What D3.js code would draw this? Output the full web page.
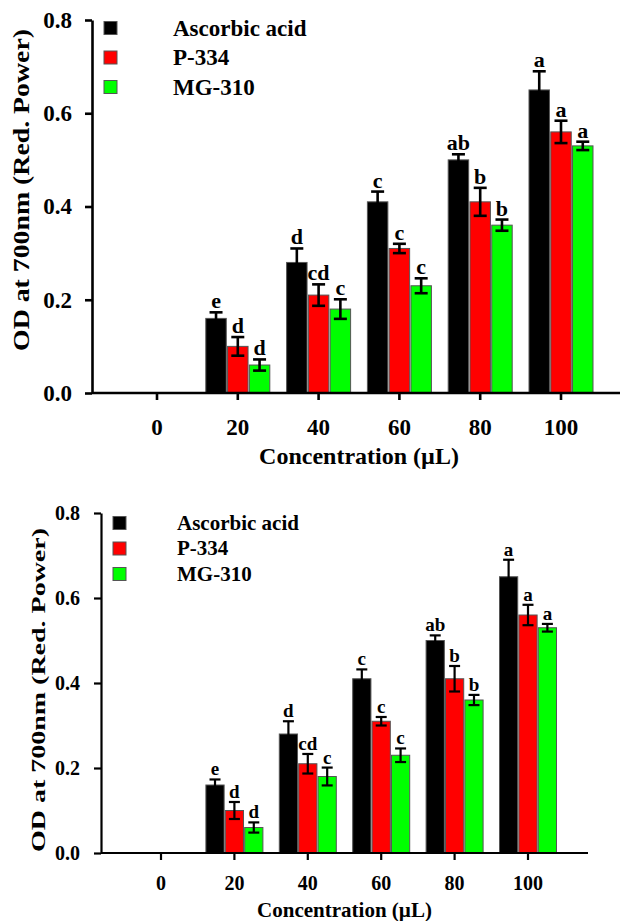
<!DOCTYPE html>
<html>
<head>
<meta charset="utf-8">
<script src="https://cdn.jsdelivr.net/npm/d3@7"></script>
<style>
  body { margin: 0; background: #fff; }
  svg { display: block; }
  svg text { font-family: "Liberation Serif", "Times New Roman", Times, "Tinos", "Noto Serif", "DejaVu Serif", "FreeSerif", "Nimbus Roman", serif; font-weight: bold; }
</style>
</head>
<body>
<script>
// data (same values in both panels)
var concentrations = ["0", "20", "40", "60", "80", "100"];
var seriesNames = ["Ascorbic acid", "P-334", "MG-310"];
var seriesColors = ["#000000", "#ff0000", "#00ff00"];

var ascorbicMean = [0, 0.16, 0.28, 0.41, 0.50, 0.65];
var ascorbicErr  = [0, 0.013, 0.03, 0.022, 0.012, 0.04];
var p334Mean     = [0, 0.10, 0.21, 0.31, 0.41, 0.56];
var p334Err      = [0, 0.02, 0.023, 0.01, 0.03, 0.024];
var mg310Mean    = [0, 0.06, 0.18, 0.23, 0.36, 0.53];
var mg310Err     = [0, 0.012, 0.021, 0.016, 0.012, 0.009];

var ascorbicLetters = ["", "e", "d", "c", "ab", "a"];
var p334Letters     = ["", "d", "cd", "c", "b", "a"];
var mg310Letters    = ["", "d", "c", "c", "b", "a"];

var yTicks = [0, 0.2, 0.4, 0.6, 0.8];

var means = [ascorbicMean, p334Mean, mg310Mean];
var errs = [ascorbicErr, p334Err, mg310Err];
var letters = [ascorbicLetters, p334Letters, mg310Letters];

var svg = d3.select("body").append("svg")
    .attr("width", 624)
    .attr("height", 921);

// build flat record list from the arrays
var records = [];
concentrations.forEach(function(c, i) {
    seriesNames.forEach(function(s, j) {
        records.push({conc: c, series: s, color: seriesColors[j],
            mean: means[j][i], err: errs[j][i], letter: letters[j][i]});
    });
});

var drawPanel = function(p) {
    var g = svg.append("g");

    var y = d3.scaleLinear().domain([0, 0.8]).range([p.base, p.top]);
    var x0 = d3.scaleBand().domain(concentrations)
        .range([p.tick0 - p.step / 2, p.tick0 + p.step * (concentrations.length - 0.5)]);
    var x1 = d3.scaleBand().domain(seriesNames)
        .range([(p.step - p.groupW) / 2, (p.step + p.groupW) / 2])
        .paddingInner(0.06);

    var shown = records.filter(function(d) { return d.mean > 0; });

    // bars
    g.selectAll("rect.bar").data(shown).enter().append("rect")
        .attr("class", "bar")
        .attr("x", function(d) { return x0(d.conc) + x1(d.series); })
        .attr("y", function(d) { return y(d.mean); })
        .attr("width", x1.bandwidth())
        .attr("height", function(d) { return y(0) - y(d.mean); })
        .attr("fill", function(d) { return d.color; })
        .attr("stroke", "#555")
        .attr("stroke-width", 1);

    // error bars
    var eb = g.selectAll("g.err").data(shown).enter().append("g")
        .attr("class", "err")
        .attr("stroke", "#000")
        .attr("stroke-width", p.errW);
    var cx = function(d) { return x0(d.conc) + x1(d.series) + x1.bandwidth() / 2; };
    eb.append("line")
        .attr("x1", cx).attr("x2", cx)
        .attr("y1", function(d) { return y(d.mean + d.err); })
        .attr("y2", function(d) { return y(d.mean - d.err); });
    eb.append("line")
        .attr("x1", function(d) { return cx(d) - p.capW / 2; })
        .attr("x2", function(d) { return cx(d) + p.capW / 2; })
        .attr("y1", function(d) { return y(d.mean + d.err); })
        .attr("y2", function(d) { return y(d.mean + d.err); });
    eb.append("line")
        .attr("x1", function(d) { return cx(d) - p.capW / 2; })
        .attr("x2", function(d) { return cx(d) + p.capW / 2; })
        .attr("y1", function(d) { return y(d.mean - d.err); })
        .attr("y2", function(d) { return y(d.mean - d.err); });

    // significance letters
    g.selectAll("text.letter").data(shown).enter().append("text")
        .attr("class", "letter")
        .attr("x", cx)
        .attr("y", function(d) { return y(d.mean + d.err) - 4; })
        .attr("text-anchor", "middle")
        .style("font-size", p.letterFont + "px")
        .text(function(d) { return d.letter; });

    // y axis
    var yAxis = g.append("g")
        .attr("transform", "translate(" + p.yAxisX + ",0)")
        .call(d3.axisLeft(y).tickValues(yTicks).tickFormat(d3.format(".1f"))
            .tickSize(7).tickSizeOuter(0).tickPadding(p.yPad));
    // x axis
    var xAxis = g.append("g")
        .attr("transform", "translate(0," + p.base + ")")
        .call(d3.axisBottom(x0).tickSize(7).tickSizeOuter(0).tickPadding(p.xPad));
    xAxis.select(".domain").remove();
    g.append("line")
        .attr("x1", p.yAxisX).attr("x2", p.xEnd)
        .attr("y1", p.base).attr("y2", p.base)
        .attr("stroke", "#000").attr("stroke-width", p.axisW);

    [yAxis, xAxis].forEach(function(a) {
        a.selectAll(".domain, .tick line").attr("stroke-width", p.axisW);
        a.selectAll("text").attr("fill", "#000").style("font-size", p.tickFont + "px");
    });

    // axis titles
    g.append("text")
        .attr("x", p.tick0 + p.step * (concentrations.length - 1) / 2)
        .attr("y", p.xTitleY)
        .attr("text-anchor", "middle")
        .style("font-size", p.titleFont + "px")
        .text("Concentration (\u00b5L)");

    g.append("text")
        .attr("transform", "translate(" + p.yTitleX + "," + p.yTitleMid + ") rotate(-90)")
        .attr("text-anchor", "middle")
        .attr("dominant-baseline", "central")
        .style("font-size", p.yTitleFont + "px")
        .attr("textLength", p.yTitleLen)
        .attr("lengthAdjust", "spacingAndGlyphs")
        .text("OD at 700nm (Red. Power)");

    // legend
    var lg = g.selectAll("g.legend").data(seriesNames).enter().append("g")
        .attr("class", "legend")
        .attr("transform", function(d, i) { return "translate(0," + (p.legY + i * p.legStep) + ")"; });
    lg.append("rect")
        .attr("x", p.legX).attr("y", -6.5)
        .attr("width", 13).attr("height", 13)
        .attr("fill", function(d, i) { return seriesColors[i]; })
        .attr("stroke", "#555").attr("stroke-width", 1);
    lg.append("text")
        .attr("x", p.legTextX).attr("y", p.legFont * 0.33)
        .style("font-size", p.legFont + "px")
        .text(function(d) { return d; });
};

// upper panel
drawPanel({
    top: 20, base: 393, yAxisX: 92, tick0: 157, step: 80.8, groupW: 64, xEnd: 620,
    axisW: 2.6, errW: 2.6, capW: 13,
    tickFont: 23, letterFont: 22, titleFont: 24, yTitleFont: 24, yTitleLen: 322,
    yPad: 13, xPad: 19, xTitleY: 464, yTitleX: 21, yTitleMid: 190,
    legX: 104, legTextX: 173, legY: 28, legStep: 29.5, legFont: 23
});

// lower panel
drawPanel({
    top: 513, base: 853, yAxisX: 101, tick0: 161, step: 73.4, groupW: 57, xEnd: 588,
    axisW: 2.2, errW: 2.2, capW: 11,
    tickFont: 20, letterFont: 19, titleFont: 21, yTitleFont: 18, yTitleLen: 324,
    yPad: 14, xPad: 16, xTitleY: 917, yTitleX: 39, yTitleMid: 690,
    legX: 113, legTextX: 177, legY: 523, legStep: 25.5, legFont: 21
});
</script>
</body>
</html>
